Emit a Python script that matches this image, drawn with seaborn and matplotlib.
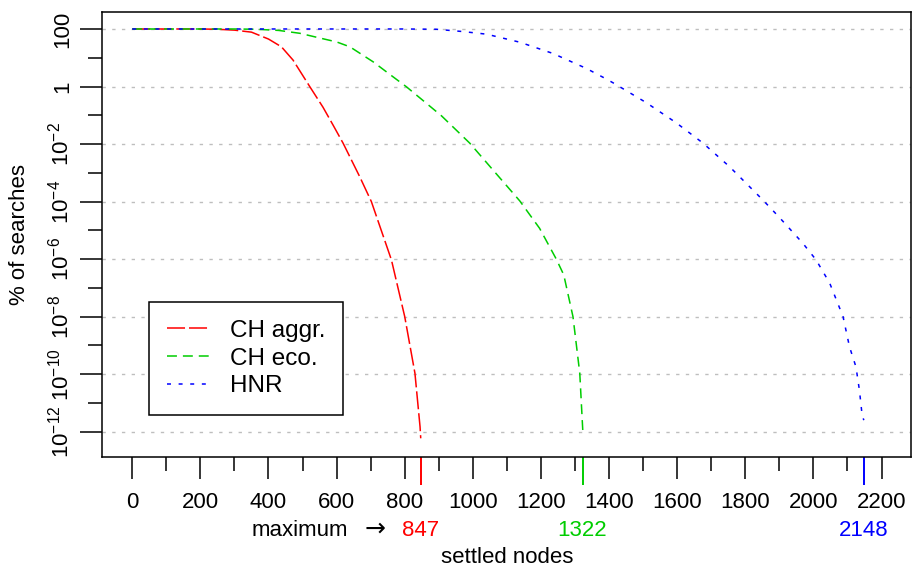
import numpy as np
import pandas as pd
import seaborn as sns
import matplotlib.pyplot as plt
import matplotlib.ticker as mticker

# readings from the picture: settled nodes vs log10(% of searches)
methods = ['CH aggr.', 'CH eco.', 'HNR']
colors = ['#FF0000', '#00CD00', '#0000FF']
max_nodes = [847, 1322, 2148]

aggr_x = [0, 100, 200, 250, 300, 350, 400, 438, 472, 521, 560, 590, 619, 668, 702, 761, 800, 830, 845, 847]
aggr_exp = [2, 2, 2, 1.99, 1.96, 1.89, 1.65, 1.38, 0.92, 0.0, -0.72, -1.35, -1.97, -3.14, -4.0, -6.03,
            -8.0, -9.97, -11.83, -12.23]

eco_x = [0, 100, 200, 300, 365, 430, 492, 560, 600, 639, 707, 771, 805, 850, 908, 991, 1059, 1138, 1196,
         1245, 1267, 1294, 1314, 1323]
eco_exp = [2, 2, 2, 2, 1.99, 1.95, 1.85, 1.66, 1.55, 1.38, 0.86, 0.29, -0.01, -0.45, -1.02, -1.97, -2.90,
           -3.98, -4.93, -6.0, -6.55, -8.0, -9.97, -12.0]

hnr_x = [0, 200, 400, 600, 727, 800, 893, 971, 1040, 1138, 1235, 1333, 1392, 1416, 1509, 1597, 1676, 1754,
         1852, 1900, 1969, 2008, 2048, 2087, 2106, 2125, 2135, 2143, 2148]
hnr_exp = [2, 2, 2, 2, 2, 2, 1.99, 1.91, 1.82, 1.54, 1.15, 0.63, 0.26, 0.10, -0.56, -1.26, -1.97, -2.79,
           -3.95, -4.55, -5.45, -6.03, -6.84, -8.0, -9.05, -9.75, -10.55, -11.42, -11.6]

x_ticks = list(range(0, 2201, 200))
y_tick_exp = [2, 0, -2, -4, -6, -8, -10, -12]
y_tick_labels = ['100', '1', r'$10^{-2}$', r'$10^{-4}$', r'$10^{-6}$', r'$10^{-8}$', r'$10^{-10}$', r'$10^{-12}$']

frames = []
for name, xs, es in zip(methods, [aggr_x, eco_x, hnr_x], [aggr_exp, eco_exp, hnr_exp]):
    frames.append(pd.DataFrame({'nodes': xs, 'pct': np.power(10.0, es), 'method': name}))
df = pd.concat(frames, ignore_index=True)

sns.set_style('ticks')
plt.rcParams['font.family'] = ['Liberation Sans', 'DejaVu Sans']
plt.rcParams['mathtext.fontset'] = 'custom'
plt.rcParams['mathtext.rm'] = 'Liberation Sans'
plt.rcParams['mathtext.it'] = 'Liberation Sans:italic'
plt.rcParams['mathtext.bf'] = 'Liberation Sans:bold'
for key in ['text.color', 'axes.labelcolor', 'xtick.color', 'ytick.color', 'axes.edgecolor']:
    plt.rcParams[key] = 'black'

fig = plt.figure(figsize=(9.13, 5.71), dpi=100)
ax = fig.add_axes([0.11205, 0.20018, 0.8863, 0.77828])

sns.lineplot(data=df, x='nodes', y='pct', hue='method', style='method',
             palette=dict(zip(methods, colors)),
             dashes={'CH aggr.': (11.8, 2.6), 'CH eco.': (6.5, 3.9), 'HNR': (2.6, 5.0)},
             estimator=None, sort=False, linewidth=1.1, legend=False, ax=ax)

ax.set_yscale('log')
ax.set_xlim(-88, 2288)
ax.set_ylim(10 ** -12.87, 10 ** 2.58)

ax.xaxis.set_major_locator(mticker.FixedLocator(x_ticks))
ax.xaxis.set_minor_locator(mticker.FixedLocator(list(range(100, 2200, 200))))
ax.set_xticklabels([str(t) for t in x_ticks])
ax.yaxis.set_major_locator(mticker.FixedLocator([10.0 ** e for e in y_tick_exp]))
ax.yaxis.set_minor_locator(mticker.FixedLocator([10.0 ** e for e in range(1, -12, -2)]))
ax.yaxis.set_minor_formatter(mticker.NullFormatter())
ax.set_yticklabels(y_tick_labels)

ax.tick_params(which='major', length=16, width=1.1, color='black', labelcolor='black', labelsize=16)
ax.tick_params(which='minor', length=10.3, width=1.1, color='black')
ax.tick_params(axis='x', which='major', pad=9.5)
ax.tick_params(axis='y', which='major', pad=5)
for lab in ax.get_yticklabels():
    lab.set_rotation(90)
    lab.set_va('center')
    lab.set_ha('right')

for sp in ax.spines.values():
    sp.set_visible(True)
    sp.set_color('black')
    sp.set_linewidth(1.1)

ax.yaxis.grid(True, which='major', color='#BEBEBE', linestyle=(0, (2.4, 4.6)), linewidth=1.0)
ax.xaxis.grid(False)
ax.set_axisbelow(True)

# colored ticks marking each maximum
ax.vlines(max_nodes, -0.0637, 0, transform=ax.get_xaxis_transform(), colors=colors,
          linewidth=1.4, clip_on=False)
for xv, c in zip(max_nodes, colors):
    ax.text(xv, -0.1784, str(xv), color=c, fontsize=16, ha='center', va='baseline',
            transform=ax.get_xaxis_transform())
ax.text(634, -0.1784, 'maximum', color='black', fontsize=16, ha='right', va='baseline',
        transform=ax.get_xaxis_transform())
ax.text(743, -0.1784, '\u2192', color='black', fontsize=18, ha='right', va='baseline',
        family='DejaVu Sans', transform=ax.get_xaxis_transform())

ax.set_xlabel('settled nodes', fontsize=16, color='black')
ax.xaxis.set_label_coords(0.5, -0.2027)
ax.set_ylabel('% of searches', fontsize=16, color='black')
ax.yaxis.set_label_coords(-0.0897, 0.5)

leg = ax.legend(handles=ax.get_lines()[:3], labels=methods, loc='upper left',
                bbox_to_anchor=(0.0581, 0.3474), borderaxespad=0, fontsize=17.5, frameon=True,
                fancybox=False, handlelength=1.77, handletextpad=0.82, labelspacing=0.235,
                borderpad=0.72)
leg.get_frame().set_edgecolor('black')
leg.get_frame().set_linewidth(1.1)
leg.get_frame().set_alpha(1)
for t in leg.get_texts():
    t.set_color('black')

plt.savefig('out.png', dpi=100)
